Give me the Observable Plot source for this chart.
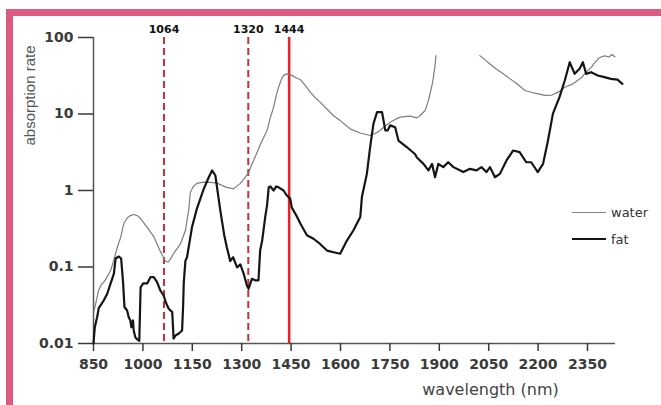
<!DOCTYPE html>
<html>
<head>
<meta charset="utf-8">
<script src="https://cdn.jsdelivr.net/npm/d3@7"></script>
<script src="https://cdn.jsdelivr.net/npm/@observablehq/plot@0.6"></script>
<style>
  html, body { margin: 0; padding: 0; background: #fff; }
  #wrap { position: relative; width: 661px; height: 405px; overflow: hidden; background: #fff; }
  #frame { position: absolute; left: 6px; top: 9px; right: 0; bottom: 0;
           border-top: 7px solid #da5a81; border-left: 7px solid #da5a81; pointer-events: none; }
  .leg { position: absolute; display: flex; align-items: center; font-family: "DejaVu Sans", sans-serif;
         font-size: 13px; color: #333; height: 18px; }
  .leg span.ln { display: inline-block; width: 34px; margin-right: 5px; }
</style>
</head>
<body>
<div id="wrap">
  <div id="chart"></div>
  <div id="frame"></div>
  <div class="leg" style="left:572px; top:203px;"><span class="ln" style="border-top:1.5px solid #858585"></span>water</div>
  <div class="leg" style="left:572px; top:230px;"><span class="ln" style="border-top:2.5px solid #151515"></span>fat</div>
</div>
<script>
// ---- data (wavelength nm, absorption rate) ----
const waterA = [
  [852,0.027],[859,0.037],[865,0.049],[874,0.059],[883,0.065],[892,0.075],[902,0.09],[911,0.12],
  [922,0.18],[932,0.24],[942,0.37],[953,0.44],[962,0.47],[972,0.485],[983,0.47],[993,0.43],
  [1013,0.33],[1033,0.25],[1053,0.16],[1068,0.12],[1076,0.116],[1083,0.125],[1093,0.15],[1114,0.2],
  [1129,0.3],[1139,0.55],[1144,0.94],[1153,1.13],[1164,1.24],[1184,1.29],[1205,1.28],[1225,1.25],
  [1241,1.16],[1255,1.1],[1275,1.05],[1296,1.24],[1308,1.44],[1321,1.72],[1332,2.25],[1346,3.1],
  [1359,4.2],[1377,6.1],[1387,9],[1397,12.3],[1405,17.5],[1412,22.4],[1420,28],[1427,32],
  [1437,33.5],[1444,33.3],[1452,32],[1466,29.6],[1478,28.2],[1493,23.6],[1508,19.3],[1523,16.4],
  [1538,14.3],[1557,11.8],[1579,9.5],[1599,8.2],[1629,6.4],[1660,5.65],[1690,5.24],[1705,5.56],
  [1720,6.1],[1735,6.9],[1751,7.8],[1766,8.5],[1781,9.1],[1811,9.4],[1832,8.9],[1841,9.5],
  [1857,11.1],[1866,14.6],[1872,18.4],[1878,24],[1882,30],[1887,43],[1890,58]
];
const waterB = [
  [2023,58],[2039,51],[2054,45],[2072,39],[2094,33.5],[2114,29],[2135,25],[2160,20.3],
  [2190,18.7],[2221,17.5],[2242,17.7],[2261,19.3],[2281,22.4],[2306,24.8],[2332,30],[2345,35],
  [2362,41],[2372,47],[2383,53],[2394,56.5],[2403,57.4],[2415,55.6],[2424,60],[2433,56]
];
const fat = [
  [850,0.01],[854,0.0163],[861,0.022],[866,0.029],[881,0.0365],[892,0.045],[902,0.061],[912,0.082],
  [917,0.129],[927,0.137],[934,0.129],[940,0.061],[944,0.03],[952,0.027],[957,0.022],[962,0.02],
  [965,0.0163],[970,0.02],[972,0.0148],[977,0.0121],[984,0.0112],[989,0.0108],[993,0.054],[1001,0.061],
  [1013,0.061],[1023,0.0736],[1033,0.0736],[1043,0.0633],[1053,0.0493],[1063,0.0424],[1071,0.0333],[1078,0.0287],
  [1089,0.0257],[1092,0.0148],[1093,0.0116],[1099,0.0127],[1109,0.0135],[1119,0.0148],[1122,0.03],[1124,0.061],
  [1129,0.12],[1134,0.134],[1149,0.33],[1164,0.58],[1184,1.03],[1200,1.49],[1210,1.83],[1220,1.57],
  [1235,0.55],[1247,0.26],[1255,0.18],[1265,0.12],[1274,0.134],[1286,0.099],[1296,0.108],[1306,0.0815],
  [1316,0.057],[1321,0.052],[1331,0.07],[1341,0.067],[1351,0.067],[1356,0.164],[1362,0.22],[1372,0.47],
  [1377,0.64],[1382,1.1],[1387,1.13],[1397,1.0],[1405,1.13],[1412,1.1],[1427,1.0],[1437,0.86],
  [1447,0.79],[1452,0.6],[1466,0.47],[1478,0.37],[1498,0.26],[1518,0.234],[1538,0.2],[1559,0.164],
  [1579,0.156],[1599,0.149],[1619,0.22],[1639,0.3],[1660,0.45],[1665,0.82],[1680,1.65],[1690,3.7],
  [1700,7.45],[1711,10.6],[1726,10.6],[1736,6.1],[1743,6.1],[1751,7.1],[1766,6.7],[1776,4.5],
  [1801,3.7],[1826,3.0],[1832,2.7],[1852,2.23],[1867,1.83],[1878,2.23],[1887,1.49],[1897,2.23],
  [1912,2.02],[1927,2.34],[1943,2.02],[1973,1.74],[1993,1.92],[2013,1.83],[2028,2.02],[2043,1.74],
  [2054,2.02],[2069,1.49],[2084,1.65],[2104,2.47],[2124,3.33],[2144,3.17],[2164,2.34],[2179,2.34],
  [2199,1.74],[2215,2.23],[2230,4.5],[2245,10.1],[2265,16.6],[2281,27.4],[2296,47.5],[2311,33.5],
  [2326,39],[2336,47.5],[2346,33.5],[2361,35.2],[2381,31.9],[2401,30.3],[2421,28.8],[2441,28.2],[2456,24.8]
];
const dashedMarkers = [1064, 1320];
const solidMarkers = [1444];
const markerLabels = [1064, 1320, 1444];
const xTicks = [850, 1000, 1150, 1300, 1450, 1600, 1750, 1900, 2050, 2200, 2350];
const yTicks = [0.01, 0.1, 1, 10, 100];

const waterRows = [
  ...waterA.map(([w, v]) => ({w, v, seg: "a"})),
  ...waterB.map(([w, v]) => ({w, v, seg: "b"}))
];
const fatRows = fat.map(([w, v]) => ({w, v}));

const chart = Plot.plot({
  width: 661,
  height: 405,
  marginLeft: 93,
  marginRight: 46,
  marginTop: 37,
  marginBottom: 62,
  style: {fontFamily: "DejaVu Sans, sans-serif", fontSize: "14px", fontWeight: "bold", color: "#3a3a3a", background: "transparent", overflow: "visible"},
  x: {domain: [850, 2435]},
  y: {type: "log", domain: [0.01, 100]},
  marks: [
    Plot.ruleX(dashedMarkers, {x: d => d, stroke: "#c6303a", strokeWidth: 2, strokeDasharray: "7,4"}),
    Plot.ruleX(solidMarkers, {x: d => d, stroke: "#e5232b", strokeWidth: 2.6}),
    Plot.text(markerLabels, {x: d => d, frameAnchor: "top", dy: -8, lineAnchor: "middle", text: d => String(d),
      fontFamily: "DejaVu Sans, sans-serif", fontSize: 11, fontWeight: "bold", fill: "#111"}),
    Plot.ruleX([850], {stroke: "#555", strokeWidth: 1.5}),
    Plot.ruleY([0.01], {stroke: "#555", strokeWidth: 1.5}),
    Plot.axisY({ticks: yTicks, tickSize: 15, tickPadding: 5, tickFormat: d => String(d), label: null, strokeWidth: 1.5}),
    Plot.axisX({ticks: xTicks, tickSize: 8, tickPadding: 8, tickFormat: d => String(d), label: null, strokeWidth: 1.5}),
    Plot.line(waterRows, {x: "w", y: "v", z: "seg", stroke: "#7e7e7e", strokeWidth: 1.2}),
    Plot.line(fatRows, {x: "w", y: "v", stroke: "#151515", strokeWidth: 2.2, strokeLinejoin: "round"}),
    Plot.text(["absorption rate"], {text: d => d, frameAnchor: "top-left", rotate: -90, dx: -63, dy: 58,
      textAnchor: "middle", lineAnchor: "middle",
      fontFamily: "Liberation Sans, Arial, sans-serif", fontSize: 15, fontWeight: "normal", fill: "#555"}),
    Plot.text(["wavelength (nm)"], {text: d => d, frameAnchor: "bottom-left", dx: 397, dy: 46,
      textAnchor: "middle", lineAnchor: "middle",
      fontFamily: "DejaVu Sans, sans-serif", fontSize: 16, fontWeight: "normal", fill: "#444", letterSpacing: "1.8px"})
  ]
});
document.getElementById("chart").appendChild(chart);
</script>
</body>
</html>
